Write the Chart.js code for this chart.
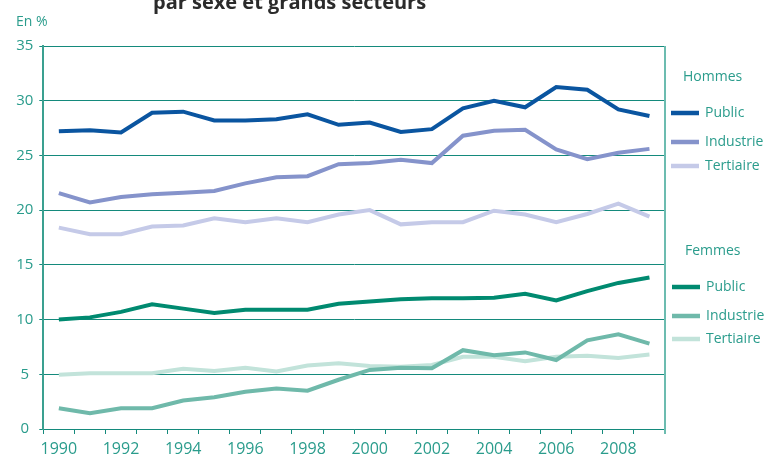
<!DOCTYPE html>
<html>
<head>
<meta charset="utf-8">
<script src="https://cdn.jsdelivr.net/npm/chart.js@4/dist/chart.umd.min.js"></script>
<style>
  html, body { margin: 0; padding: 0; background: #fff; }
  #wrap { width: 765px; height: 455px; position: relative; }
</style>
</head>
<body>
<div id="wrap"><canvas id="chart"></canvas></div>
<script>
// --- data ---
const years = ['1990','1991','1992','1993','1994','1995','1996','1997','1998','1999',
               '2000','2001','2002','2003','2004','2005','2006','2007','2008','2009'];

const hommesPublic    = [27.2,27.3,27.1,28.9,29.0,28.2,28.2,28.3,28.75,27.8,28.0,27.15,27.4,29.3,30.0,29.4,31.25,31.0,29.2,28.6];
const hommesIndustrie = [21.55,20.7,21.2,21.45,21.6,21.75,22.45,23.0,23.1,24.2,24.3,24.6,24.3,26.8,27.25,27.35,25.55,24.65,25.25,25.6];
const hommesTertiaire = [18.4,17.8,17.8,18.5,18.6,19.25,18.9,19.25,18.9,19.6,20.0,18.7,18.9,18.9,19.95,19.6,18.9,19.65,20.6,19.4];
const femmesPublic    = [10.0,10.2,10.7,11.4,11.0,10.6,10.9,10.9,10.9,11.45,11.65,11.85,11.95,11.95,12.0,12.35,11.75,12.6,13.35,13.85];
const femmesIndustrie = [1.9,1.45,1.9,1.9,2.6,2.9,3.4,3.7,3.5,4.5,5.4,5.6,5.55,7.2,6.75,7.0,6.3,8.1,8.65,7.8];
const femmesTertiaire = [4.95,5.1,5.1,5.1,5.5,5.3,5.6,5.25,5.8,6.0,5.75,5.7,5.85,6.6,6.6,6.2,6.6,6.7,6.5,6.8];

const yTicks = [0,5,10,15,20,25,30,35];

const TEAL_TEXT = '#2a9c8c';
const TEAL_GRID = '#148a7c';
const FONT = '"Open Sans", sans-serif';

const mkLine = (label, data, color, group) => ({
    label, data, group,
    borderColor: color,
    backgroundColor: color,
    borderWidth: 4,
    pointRadius: 0,
    tension: 0,
    fill: false
});

// frame, title and the two-group legend on the right
const decorPlugin = {
    id: 'decor',
    afterDraw(chart) {
        const { ctx, chartArea } = chart;
        ctx.save();

        // right border of the plot
        ctx.strokeStyle = '#6cbcb0';
        ctx.lineWidth = 2;
        ctx.beginPath();
        ctx.moveTo(chartArea.right, chartArea.top);
        ctx.lineTo(chartArea.right, chartArea.bottom + 5);
        ctx.stroke();

        // cut-off title
        ctx.fillStyle = '#2b2b2b';
        ctx.font = 'bold 20px ' + FONT;
        ctx.textAlign = 'left';
        ctx.textBaseline = 'alphabetic';
        ctx.fillText('par sexe et grands secteurs', 153, 9);

        // unit
        ctx.fillStyle = TEAL_TEXT;
        ctx.font = '14px ' + FONT;
        ctx.textBaseline = 'middle';
        ctx.fillText('En %', 16, 22);

        // legend
        const groups = [
            { title: 'Hommes', titleX: 683, titleY: 77, lineX: 671, textX: 705, rows: [113, 142, 166], key: 'H' },
            { title: 'Femmes', titleX: 685, titleY: 251, lineX: 672, textX: 706, rows: [287, 316, 339], key: 'F' }
        ];
        groups.forEach(g => {
            ctx.fillStyle = TEAL_TEXT;
            ctx.font = '14px ' + FONT;
            ctx.fillText(g.title, g.titleX, g.titleY);
            const sets = chart.data.datasets.filter(d => d.group === g.key);
            sets.forEach((ds, i) => {
                const y = g.rows[i];
                ctx.strokeStyle = ds.borderColor;
                ctx.lineWidth = 4.5;
                ctx.beginPath();
                ctx.moveTo(g.lineX, y);
                ctx.lineTo(g.lineX + 28, y);
                ctx.stroke();
                ctx.fillStyle = TEAL_TEXT;
                ctx.fillText(ds.label, g.textX, y);
            });
        });

        ctx.restore();
    }
};

const ctx = document.getElementById('chart').getContext('2d');
new Chart(ctx, {
    type: 'line',
    data: {
        labels: years,
        datasets: [
            mkLine('Public', hommesPublic, '#0a55a0', 'H'),
            mkLine('Industrie', hommesIndustrie, '#8593cb', 'H'),
            mkLine('Tertiaire', hommesTertiaire, '#c5cae8', 'H'),
            mkLine('Public', femmesPublic, '#008a70', 'F'),
            mkLine('Industrie', femmesIndustrie, '#6fb9aa', 'F'),
            mkLine('Tertiaire', femmesTertiaire, '#c2e3da', 'F')
        ]
    },
    options: {
        responsive: true,
        maintainAspectRatio: false,
        animation: false,
        layout: { padding: { left: 0, right: 100, top: 46, bottom: 0 } },
        plugins: {
            legend: { display: false },
            tooltip: { enabled: false }
        },
        scales: {
            x: {
                offset: true,
                grid: {
                    offset: true,
                    drawOnChartArea: false,
                    drawTicks: true,
                    tickLength: 5,
                    color: TEAL_GRID
                },
                border: { display: true, color: TEAL_GRID, width: 1 },
                ticks: {
                    autoSkip: false,
                    maxRotation: 0,
                    padding: 6,
                    color: TEAL_TEXT,
                    font: { family: FONT, size: 16 },
                    callback: (v, i) => (i % 2 === 0 ? years[i] : '')
                },
                afterFit: s => { s.height = 26; }
            },
            y: {
                min: 0,
                max: 35,
                afterBuildTicks: s => { s.ticks = yTicks.map(v => ({ value: v })); },
                grid: {
                    color: TEAL_GRID,
                    lineWidth: 1,
                    tickLength: 4
                },
                border: { display: true, color: '#3aa090', width: 2 },
                ticks: {
                    padding: 6,
                    crossAlign: 'center',
                    color: TEAL_TEXT,
                    font: { family: FONT, size: 15 }
                },
                afterFit: s => { s.width = 43.3; }
            }
        }
    },
    plugins: [decorPlugin]
});
</script>
</body>
</html>
